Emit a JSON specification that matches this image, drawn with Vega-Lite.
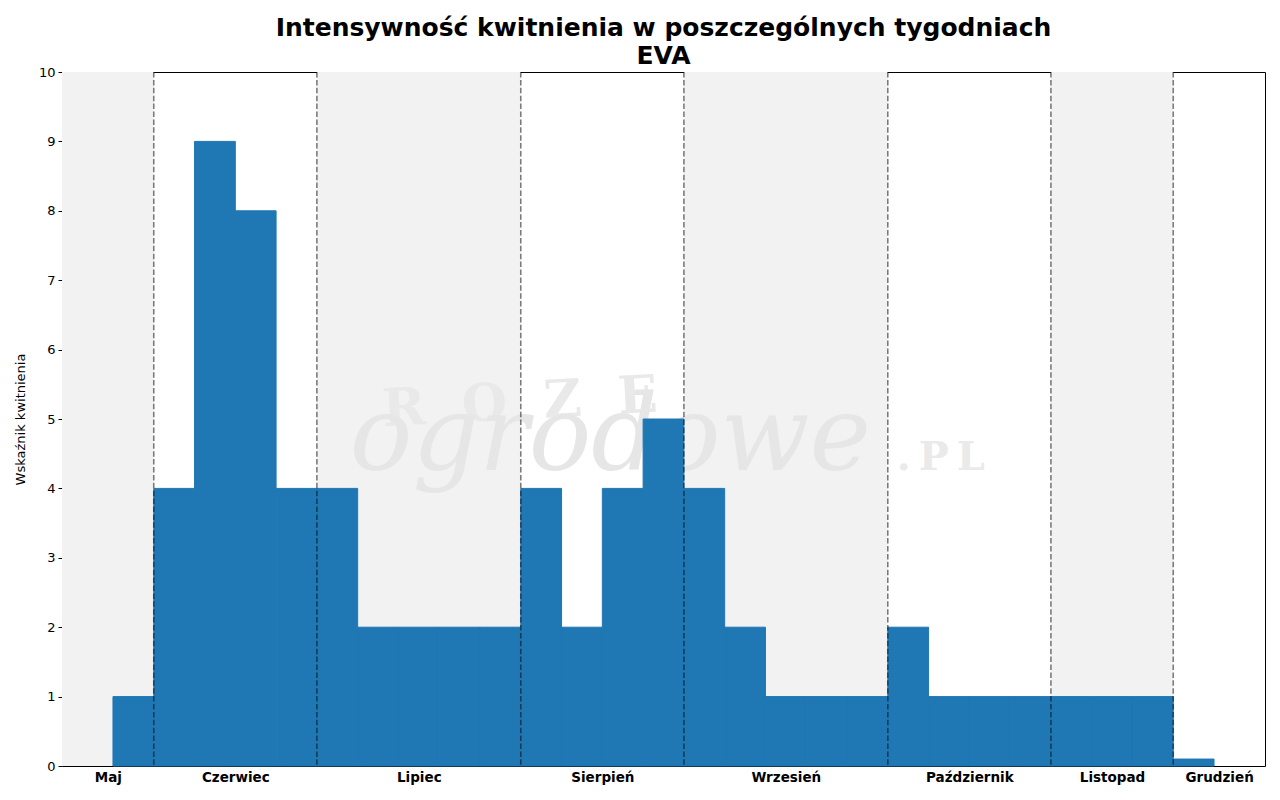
{
  "$schema": "https://vega.github.io/schema/vega-lite/v6.json",
  "width": 1203,
  "height": 694,
  "autosize": "none",
  "padding": {"left": 62, "top": 72, "right": 15, "bottom": 34},
  "background": "white",
  "config": {
    "font": "DejaVu Sans",
    "view": {"stroke": "black", "strokeWidth": 1}
  },
  "title": {
    "text": ["Intensywność kwitnienia w poszczególnych tygodniach", "EVA"],
    "fontSize": 25,
    "fontWeight": "bold",
    "color": "black",
    "anchor": "middle",
    "frame": "group",
    "lineHeight": 28,
    "offset": -3
  },
  "datasets": {
    "tygodnie": [
      {"od": 0, "do": 1, "wskaznik": 1},
      {"od": 1, "do": 2, "wskaznik": 4},
      {"od": 2, "do": 3, "wskaznik": 9},
      {"od": 3, "do": 4, "wskaznik": 8},
      {"od": 4, "do": 5, "wskaznik": 4},
      {"od": 5, "do": 6, "wskaznik": 4},
      {"od": 6, "do": 7, "wskaznik": 2},
      {"od": 7, "do": 8, "wskaznik": 2},
      {"od": 8, "do": 9, "wskaznik": 2},
      {"od": 9, "do": 10, "wskaznik": 2},
      {"od": 10, "do": 11, "wskaznik": 4},
      {"od": 11, "do": 12, "wskaznik": 2},
      {"od": 12, "do": 13, "wskaznik": 4},
      {"od": 13, "do": 14, "wskaznik": 5},
      {"od": 14, "do": 15, "wskaznik": 4},
      {"od": 15, "do": 16, "wskaznik": 2},
      {"od": 16, "do": 17, "wskaznik": 1},
      {"od": 17, "do": 18, "wskaznik": 1},
      {"od": 18, "do": 19, "wskaznik": 1},
      {"od": 19, "do": 20, "wskaznik": 2},
      {"od": 20, "do": 21, "wskaznik": 1},
      {"od": 21, "do": 22, "wskaznik": 1},
      {"od": 22, "do": 23, "wskaznik": 1},
      {"od": 23, "do": 24, "wskaznik": 1},
      {"od": 24, "do": 25, "wskaznik": 1},
      {"od": 25, "do": 26, "wskaznik": 1},
      {"od": 26, "do": 27, "wskaznik": 0.1}
    ],
    "miesiace": [
      {"miesiac": "Maj", "od": -1.25, "do": 1, "tlo": true},
      {"miesiac": "Czerwiec", "od": 1, "do": 5, "tlo": false},
      {"miesiac": "Lipiec", "od": 5, "do": 10, "tlo": true},
      {"miesiac": "Sierpień", "od": 10, "do": 14, "tlo": false},
      {"miesiac": "Wrzesień", "od": 14, "do": 19, "tlo": true},
      {"miesiac": "Październik", "od": 19, "do": 23, "tlo": false},
      {"miesiac": "Listopad", "od": 23, "do": 26, "tlo": true},
      {"miesiac": "Grudzień", "od": 26, "do": 28.25, "tlo": false}
    ],
    "znak": [{"napis": "watermark"}]
  },
  "layer": [
    {
      "data": {"name": "miesiace"},
      "transform": [{"filter": "datum.tlo"}],
      "mark": {"type": "rect", "color": "#f2f2f2"},
      "encoding": {
        "x": {
          "field": "od",
          "type": "quantitative",
          "scale": {"domain": [-1.25, 28.25], "nice": false, "zero": false},
          "axis": {
            "values": [-0.125, 3, 7.5, 12, 16.5, 21, 24.5, 27.125],
            "labelExpr": "datum.value < 1 ? 'Maj' : datum.value < 5 ? 'Czerwiec' : datum.value < 10 ? 'Lipiec' : datum.value < 14 ? 'Sierpień' : datum.value < 19 ? 'Wrzesień' : datum.value < 23 ? 'Październik' : datum.value < 26 ? 'Listopad' : 'Grudzień'",
            "title": null,
            "ticks": false,
            "domain": false,
            "grid": false,
            "labelFontSize": 13.5,
            "labelFontWeight": "bold",
            "labelColor": "black",
            "labelPadding": 4,
            "labelFlush": false,
            "labelOverlap": false
          }
        },
        "x2": {"field": "do"},
        "y": {"datum": 0, "type": "quantitative"},
        "y2": {"datum": 10}
      }
    },
    {
      "data": {"name": "znak"},
      "mark": {"type": "text", "font": "DejaVu Serif", "fontWeight": "bold", "fontSize": 52, "color": "#e9e9e9", "angle": -3, "baseline": "alphabetic"},
      "encoding": {
        "x": {"datum": 10.0, "type": "quantitative"},
        "y": {"datum": 5.0, "type": "quantitative"},
        "text": {"value": "R\u2002\u2009O\u2002\u2009Z\u2002\u2009E"}
      }
    },
    {
      "data": {"name": "znak"},
      "mark": {"type": "text", "font": "DejaVu Serif", "fontStyle": "italic", "fontSize": 104, "color": "#e6e6e6", "baseline": "alphabetic"},
      "encoding": {
        "x": {"datum": 12.2, "type": "quantitative"},
        "y": {"datum": 4.26, "type": "quantitative"},
        "text": {"value": "ogrodowe"}
      }
    },
    {
      "data": {"name": "znak"},
      "mark": {"type": "text", "font": "DejaVu Serif", "fontWeight": "bold", "fontSize": 40, "color": "#eaeaea", "baseline": "alphabetic"},
      "encoding": {
        "x": {"datum": 20.3, "type": "quantitative"},
        "y": {"datum": 4.26, "type": "quantitative"},
        "text": {"value": ".\u2009P\u2009L"}
      }
    },
    {
      "data": {"name": "tygodnie"},
      "mark": {"type": "rect", "color": "#1f77b4", "stroke": "#1f77b4", "strokeWidth": 1},
      "encoding": {
        "x": {"field": "od", "type": "quantitative"},
        "x2": {"field": "do"},
        "y": {
          "field": "wskaznik",
          "type": "quantitative",
          "title": "Wskaźnik kwitnienia",
          "scale": {"domain": [0, 10], "nice": false},
          "axis": {
            "values": [0, 1, 2, 3, 4, 5, 6, 7, 8, 9, 10],
            "format": "d",
            "grid": false,
            "domain": false,
            "tickColor": "black",
            "tickSize": 4,
            "labelFontSize": 13,
            "labelColor": "black",
            "labelPadding": 3,
            "titleFontSize": 13,
            "titleFontWeight": "normal",
            "titleColor": "black",
            "titlePadding": 11
          }
        },
        "y2": {"datum": 0}
      }
    },
    {
      "data": {"name": "miesiace"},
      "transform": [{"filter": "datum.od > 0"}],
      "mark": {"type": "rule", "color": "black", "opacity": 0.5, "strokeWidth": 1.6, "strokeDash": [5.5, 2.4]},
      "encoding": {
        "x": {"field": "od", "type": "quantitative"}
      }
    }
  ]
}
